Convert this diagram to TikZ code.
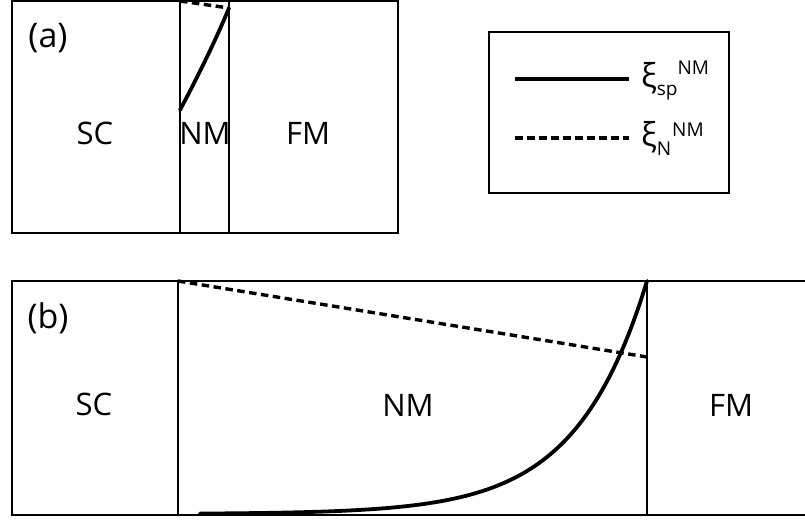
\documentclass[tikz,border=0pt]{standalone}
\usepackage{fontspec}
\setmainfont{Open Sans}
\newcommand{\smallfs}{\fontsize{19}{22}\selectfont}
\begin{document}
\begin{tikzpicture}[x=1pt,y=-1pt,
  frame/.style={draw=black,line width=2.2pt},
  curveA/.style={line width=3.8pt,line cap=round},
  curveB/.style={line width=3.4pt,dash pattern=on 7.5pt off 4.5pt},
  lbl/.style={font=\fontsize{31}{36}\selectfont,inner sep=0pt},
  tag/.style={font=\fontsize{34}{40}\selectfont,inner sep=0pt},
  leg/.style={font=\fontsize{33}{38}\selectfont,inner sep=0pt,anchor=base west}]
\useasboundingbox (0,0) rectangle (805,519);
% panel (a)
\draw[frame] (12,1) rectangle (398,233);
\draw[frame] (180,1) -- (180,233);
\draw[frame] (229,1) -- (229,233);
\node[tag] (la) at (48,38) {(a)};
\node[lbl] (sca) at (95,133) {SC};
\node[lbl] (nma) at (205,133) {NM};
\node[lbl] (fma) at (308,133) {FM};
\coordinate (a0) at (180,110);
\coordinate (a1) at (229,8);
\coordinate (d0) at (180,1);
\draw[curveA] (a0) .. controls (196,80) and (215,42) .. (a1);
\draw[curveB] (d0) -- (a1);
% legend
\draw[frame] (489,32) rectangle (729,193);
\coordinate (s0) at (515,79);
\coordinate (s1) at (629,79);
\coordinate (t0) at (515,138);
\coordinate (t1) at (629,138);
\draw[line width=3.8pt] (s0) -- (s1);
\draw[curveB] (t0) -- (t1);
\node[leg] (lsp) at (641,87) {ξ\raisebox{-8pt}{\smallfs sp}\raisebox{13pt}{\smallfs NM}};
\node[leg] (ln) at (641,146) {ξ\raisebox{-9pt}{\smallfs N}\kern1pt\raisebox{10pt}{\smallfs NM}};
% panel (b)
\draw[frame] (805,281) -- (12,281) -- (12,515) -- (805,515);
\draw[frame] (178,281) -- (178,515);
\draw[frame] (647,281) -- (647,515);
\node[tag] (lb) at (48,318) {(b)};
\node[lbl] (scb) at (94,404) {SC};
\node[lbl] (nmb) at (408,405) {NM};
\node[lbl] (fmb) at (731,405) {FM};
\coordinate (b1) at (647,281);
\coordinate (e0) at (178,281);
\coordinate (e1) at (647,357);
\draw[curveA] plot[domain=200:647,samples=120] (\x,{514-233*exp((\x-647)/71)});
\draw[curveB] (e0) -- (e1);
\end{tikzpicture}
\end{document}
